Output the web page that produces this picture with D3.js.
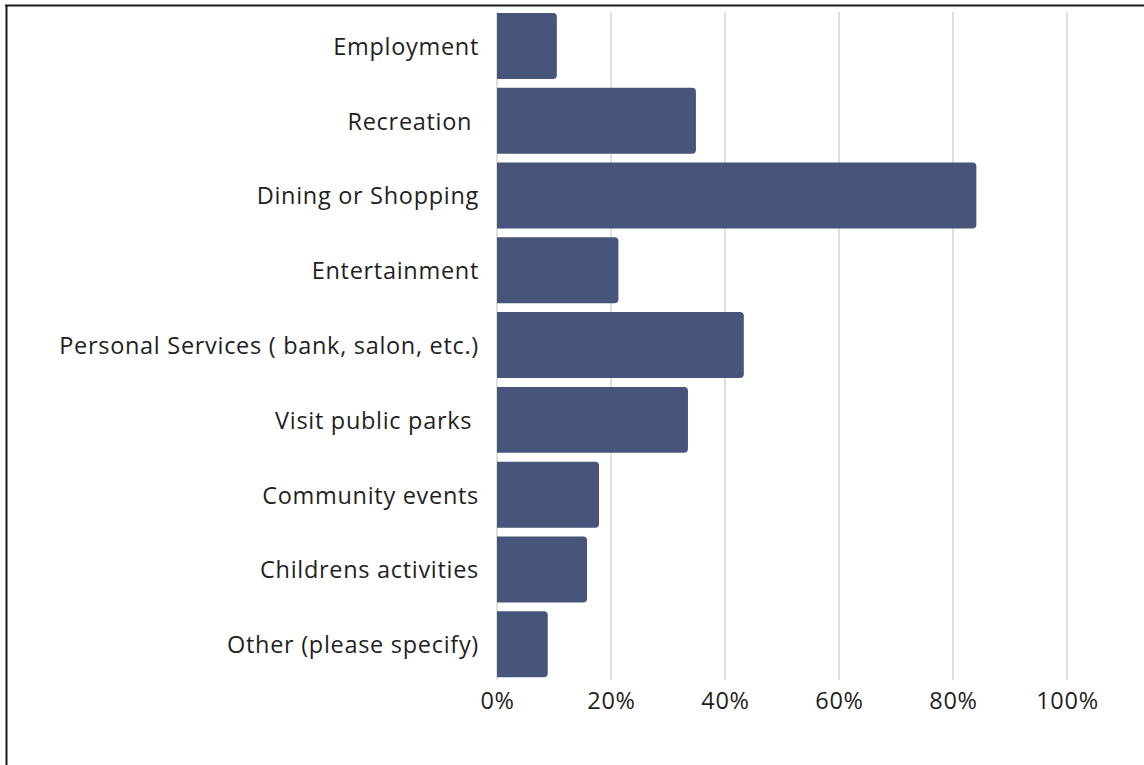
<!DOCTYPE html>
<html>
<head>
<meta charset="utf-8">
<script src="https://cdn.jsdelivr.net/npm/d3@7/dist/d3.min.js"></script>
<style>
  html, body { margin: 0; padding: 0; background: #fff; }
  svg { display: block; }
</style>
</head>
<body>
<svg id="chart" width="1144" height="765"></svg>
<script>
// Share of respondents by activity type
const categories = [
  "Employment",
  "Recreation ",
  "Dining or Shopping",
  "Entertainment",
  "Personal Services ( bank, salon, etc.)",
  "Visit public parks ",
  "Community events",
  "Childrens activities",
  "Other (please specify)"
];
const values = [0.105, 0.349, 0.841, 0.213, 0.433, 0.335, 0.179, 0.158, 0.089];
const tickValues = [0, 0.2, 0.4, 0.6, 0.8, 1.0];
const tickLabels = ["0%", "20%", "40%", "60%", "80%", "100%"];

const svg = d3.select("#chart");
const font = "'Open Sans', 'Noto Sans', sans-serif";

// Frame lines along the top and left edges
svg.append("line").attr("x1", 5).attr("x2", 1144).attr("y1", 5.5).attr("y2", 5.5)
  .attr("stroke", "#1a1a1a").attr("stroke-width", 2);
svg.append("line").attr("x1", 6.5).attr("x2", 6.5).attr("y1", 5).attr("y2", 765)
  .attr("stroke", "#1a1a1a").attr("stroke-width", 2);

const x = d3.scaleLinear().domain([0, 1]).range([497, 1067]);
const y = d3.scaleBand().domain(categories).range([8.6, 681.6]).paddingInner(0.118).paddingOuter(0.059);

// Vertical gridlines
svg.append("g").selectAll("line").data(tickValues).join("line")
  .attr("x1", d => x(d)).attr("x2", d => x(d))
  .attr("y1", 12).attr("y2", 680)
  .attr("stroke", "#d6d6d6").attr("stroke-width", 1.5);

// Bars: square on the baseline, rounded at the far end
const r = 4;
svg.append("g").selectAll("path").data(values).join("path")
  .attr("fill", "#465579")
  .attr("d", (d, i) => {
    const x0 = x(0), x1 = x(d), y0 = y(categories[i]), h = y.bandwidth();
    const p = d3.path();
    p.moveTo(x0, y0);
    p.lineTo(x1 - r, y0);
    p.arcTo(x1, y0, x1, y0 + r, r);
    p.lineTo(x1, y0 + h - r);
    p.arcTo(x1, y0 + h, x1 - r, y0 + h, r);
    p.lineTo(x0, y0 + h);
    p.closePath();
    return p.toString();
  });

// Category labels
const yAxis = d3.axisLeft(y).tickSize(0).tickPadding(18);
const gy = svg.append("g").attr("transform", `translate(${x(0)},0)`).call(yAxis);
gy.select(".domain").remove();
gy.selectAll("text")
  .attr("font-family", font).attr("font-size", 23.5).attr("fill", "#1f1f1f")
  .attr("letter-spacing", 0.7).attr("dy", "0.38em")
  .style("white-space", "pre");

// Percentage tick labels
const xAxis = d3.axisBottom(x).tickValues(tickValues)
  .tickFormat((d, i) => tickLabels[i]).tickSize(0).tickPadding(0);
const gx = svg.append("g").attr("transform", "translate(0,692)").call(xAxis);
gx.select(".domain").remove();
gx.selectAll("text")
  .attr("font-family", font).attr("font-size", 23.5).attr("fill", "#1f1f1f")
  .attr("letter-spacing", 0.7);
</script>
</body>
</html>
